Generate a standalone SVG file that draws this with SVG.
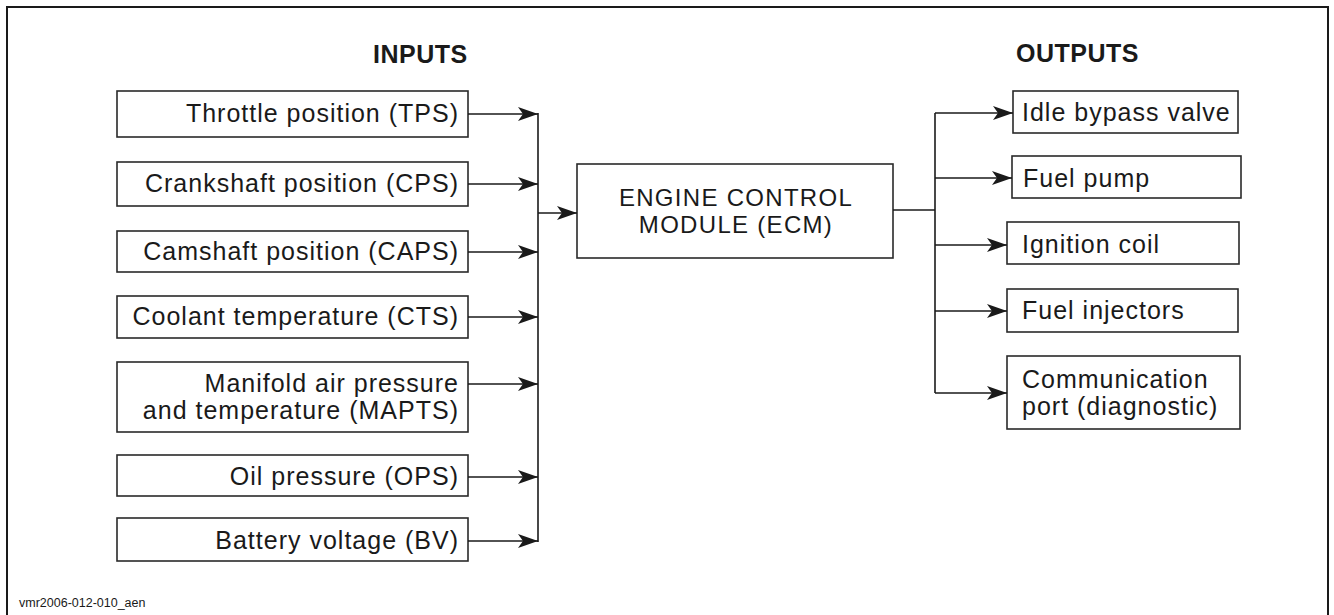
<svg xmlns="http://www.w3.org/2000/svg" width="1334" height="615" viewBox="0 0 1334 615">
<style>
  .frame{fill:none;stroke:#1a1a1a;stroke-width:2}
  .box{fill:#fff;stroke:#2a2a2a;stroke-width:1.6}
  .t{font-family:"Liberation Sans",Arial,sans-serif;font-size:25px;letter-spacing:1px;fill:#1a1a1a}
  .e{font-family:"Liberation Sans",Arial,sans-serif;font-size:24px;letter-spacing:1.3px;fill:#1a1a1a}
  .r{text-anchor:end}
  .c{text-anchor:middle}
  .h{font-family:"Liberation Sans",Arial,sans-serif;font-size:25px;font-weight:bold;letter-spacing:0.5px;fill:#1a1a1a}
  .conn{fill:none;stroke:#1a1a1a;stroke-width:1.6}
  .small{font-family:"Liberation Sans",Arial,sans-serif;font-size:12.5px;fill:#1a1a1a}
</style>
<defs>
  <marker id="ah" markerUnits="userSpaceOnUse" markerWidth="21" markerHeight="15" refX="20" refY="7" orient="auto" viewBox="0 0 21 15">
    <path d="M0,0 L20,7 L0,14 L5,7 Z" fill="#1a1a1a"/>
  </marker>
</defs>
<rect width="1334" height="615" fill="#fff"/>
<path class="frame" d="M7,615 L7,7 L1328,7 L1328,615"/>

<text class="h" x="373" y="63">INPUTS</text>
<text class="h" x="1016" y="62">OUTPUTS</text>

<g id="in-tps"><rect class="box" x="117" y="91" width="351" height="46"/><text class="t r" x="459" y="122">Throttle position (TPS)</text></g>
<g id="in-cps"><rect class="box" x="117" y="162" width="351" height="44"/><text class="t r" x="459" y="192">Crankshaft position (CPS)</text></g>
<g id="in-caps"><rect class="box" x="117" y="231" width="351" height="41"/><text class="t r" x="459" y="260">Camshaft position (CAPS)</text></g>
<g id="in-cts"><rect class="box" x="117" y="296" width="351" height="42"/><text class="t r" x="459" y="325">Coolant temperature (CTS)</text></g>
<g id="in-mapts"><rect class="box" x="117" y="362" width="351" height="70"/><text class="t r" x="459" y="392">Manifold air pressure</text><text class="t r" x="459" y="419">and temperature (MAPTS)</text></g>
<g id="in-ops"><rect class="box" x="117" y="455" width="351" height="41"/><text class="t r" x="459" y="485">Oil pressure (OPS)</text></g>
<g id="in-bv"><rect class="box" x="117" y="518" width="351" height="43"/><text class="t r" x="459" y="549">Battery voltage (BV)</text></g>

<g id="ecm"><rect class="box" x="577" y="164" width="316" height="94"/><text class="e c" x="736" y="206">ENGINE CONTROL</text><text class="e c" x="736" y="233">MODULE (ECM)</text></g>

<g id="out-idle"><rect class="box" x="1013" y="91" width="225" height="42"/><text class="t" x="1022" y="121">Idle bypass valve</text></g>
<g id="out-pump"><rect class="box" x="1012" y="156" width="229" height="42"/><text class="t" x="1023" y="187">Fuel pump</text></g>
<g id="out-coil"><rect class="box" x="1007" y="222" width="232" height="42"/><text class="t" x="1022" y="253">Ignition coil</text></g>
<g id="out-inj"><rect class="box" x="1007" y="289" width="231" height="43"/><text class="t" x="1022" y="319">Fuel injectors</text></g>
<g id="out-comm"><rect class="box" x="1007" y="356" width="233" height="73"/><text class="t" x="1022" y="388">Communication</text><text class="t" x="1022" y="415">port (diagnostic)</text></g>

<g id="connectors">
  <line class="conn" x1="468" y1="114" x2="538" y2="114" marker-end="url(#ah)"/>
  <line class="conn" x1="468" y1="184" x2="538" y2="184" marker-end="url(#ah)"/>
  <line class="conn" x1="468" y1="252" x2="538" y2="252" marker-end="url(#ah)"/>
  <line class="conn" x1="468" y1="317" x2="538" y2="317" marker-end="url(#ah)"/>
  <line class="conn" x1="468" y1="384" x2="538" y2="384" marker-end="url(#ah)"/>
  <line class="conn" x1="468" y1="477" x2="538" y2="477" marker-end="url(#ah)"/>
  <line class="conn" x1="468" y1="541" x2="538" y2="541" marker-end="url(#ah)"/>
  <line class="conn" x1="538" y1="113" x2="538" y2="542"/>
  <line class="conn" x1="538" y1="213" x2="577" y2="213" marker-end="url(#ah)"/>
  <line class="conn" x1="893" y1="210" x2="935" y2="210"/>
  <line class="conn" x1="935" y1="113" x2="935" y2="393"/>
  <line class="conn" x1="935" y1="113" x2="1013" y2="113" marker-end="url(#ah)"/>
  <line class="conn" x1="935" y1="178" x2="1012" y2="178" marker-end="url(#ah)"/>
  <line class="conn" x1="935" y1="245" x2="1007" y2="245" marker-end="url(#ah)"/>
  <line class="conn" x1="935" y1="311" x2="1007" y2="311" marker-end="url(#ah)"/>
  <line class="conn" x1="935" y1="393" x2="1007" y2="393" marker-end="url(#ah)"/>
</g>

<text class="small" x="19" y="607">vmr2006-012-010_aen</text>
</svg>
